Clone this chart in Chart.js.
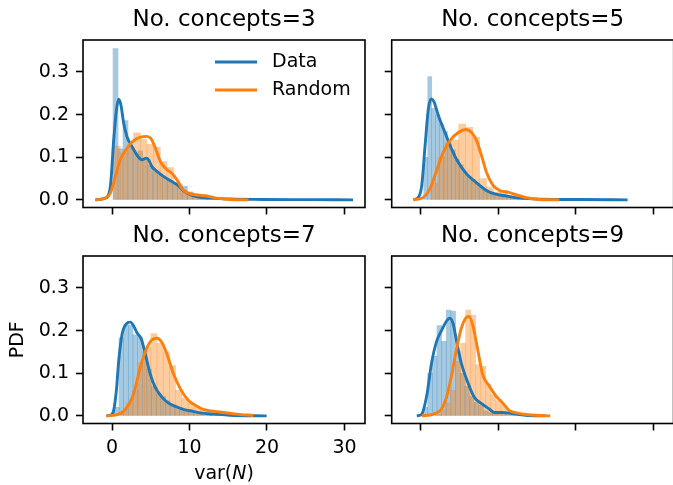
<!DOCTYPE html>
<html>
<head>
<meta charset="utf-8">
<script src="https://cdn.jsdelivr.net/npm/chart.js@4.4.1/dist/chart.umd.min.js"></script>
<style>
  html, body { margin: 0; padding: 0; background: #fff; overflow: hidden; }
  body { width: 673px; height: 485px; position: relative; }
  .panel { position: absolute; }
</style>
</head>
<body>
<div class="panel" style="left:0;top:0;width:370px;height:232px"><canvas id="c3"></canvas></div>
<div class="panel" style="left:375px;top:0;width:300px;height:232px"><canvas id="c5"></canvas></div>
<div class="panel" style="left:0;top:215.5px;width:370px;height:269.5px"><canvas id="c7"></canvas></div>
<div class="panel" style="left:375px;top:215.5px;width:300px;height:269.5px"><canvas id="c9"></canvas></div>
<script>
// ticks and axis ranges (shared by all four panels)
const xTicks = [0, 10, 20, 30];
const yTicks = [0, 0.1, 0.2, 0.3];
const xMin = -3.75, xMax = 32.65;
const yMin = -0.0179, yMax = 0.375;

// No. concepts=3
const c3DataBins = [0.45, 1.09, 1.73, 2.37, 3.01, 3.65, 4.29, 4.93, 5.57, 6.21, 6.85, 7.49, 8.13, 8.77, 9.41, 10.05, 10.69, 11.33, 11.97, 12.61, 13.25, 13.89, 14.53, 17.97, 21.81, 30.77];
const c3DataHist = [0.355, 0.12, 0.186, 0.13, 0.11, 0.115, 0.098, 0.082, 0.066, 0.058, 0.052, 0.045, 0.04, 0.036, 0.032, 0.018, 0.01, 0.007, 0.005, 0.004, 0.003, 0.002, 0.002, 0.001, 0.001, 0.001];
const c3DataKdeX = [-2.15, -0.86, -0.22, 0.21, 0.56, 0.85, 1.15, 1.5, 1.93, 2.57, 3.22, 3.86, 4.42, 4.72, 5.14, 5.79, 6.65, 7.72, 8.58, 9.22, 10.08, 11.4, 13.1, 15.2, 19.5, 25.9, 31.1];
const c3DataKdeY = [0, 0.004, 0.031, 0.14, 0.21, 0.236, 0.222, 0.18, 0.148, 0.125, 0.105, 0.094, 0.098, 0.094, 0.078, 0.067, 0.055, 0.043, 0.033, 0.022, 0.012, 0.006, 0.004, 0.002, 0.001, 0.0005, 0];
const c3RandBins = [0.63, 1.49, 2.35, 3.21, 4.07, 4.93, 5.79, 6.65, 7.51, 8.37, 9.23, 10.09, 10.95, 11.81, 12.67, 13.53, 14.39, 15.25];
const c3RandHist = [0.126, 0.11, 0.124, 0.157, 0.142, 0.13, 0.124, 0.09, 0.076, 0.04, 0.022, 0.018, 0.012, 0.009, 0.005, 0.003, 0.002, 0.001];
const c3RandKdeX = [-2.15, -0.86, -0.22, 0.42, 1.07, 1.93, 2.79, 3.65, 4.5, 5.0, 5.6, 6.24, 6.89, 7.75, 8.39, 9.03, 9.68, 10.75, 12.25, 13.5, 15.2, 17.6];
const c3RandKdeY = [0, 0.004, 0.016, 0.055, 0.094, 0.121, 0.139, 0.147, 0.149, 0.144, 0.121, 0.09, 0.074, 0.062, 0.047, 0.027, 0.017, 0.012, 0.009, 0.004, 0.001, 0];

// No. concepts=5
const c5DataBins = [0.65, 1.16, 1.67, 2.18, 2.69, 3.2, 3.71, 4.22, 4.73, 5.24, 5.75, 6.26, 6.77, 7.28, 7.79, 8.3, 8.81, 9.32, 9.83, 10.34, 10.85, 11.36, 11.87, 12.38, 14.42, 18.5, 23.6];
const c5DataHist = [0.1, 0.289, 0.215, 0.2, 0.178, 0.16, 0.13, 0.118, 0.095, 0.082, 0.066, 0.056, 0.048, 0.04, 0.03, 0.025, 0.018, 0.013, 0.01, 0.009, 0.007, 0.005, 0.004, 0.002, 0.001, 0.001, 0.001];
const c5DataKdeX = [-0.95, -0.3, 0.13, 0.56, 0.98, 1.33, 1.71, 2.27, 3.13, 3.98, 4.84, 5.91, 7.2, 8.48, 9.55, 11.05, 12.76, 15.34, 20.5, 26.7];
const c5DataKdeY = [0, 0.006, 0.034, 0.127, 0.213, 0.237, 0.23, 0.198, 0.158, 0.119, 0.088, 0.061, 0.04, 0.022, 0.014, 0.009, 0.004, 0.0016, 0.0008, 0];
const c5RandBins = [1.75, 2.65, 3.55, 4.45, 5.35, 6.25, 7.15, 8.05, 8.95, 9.85, 10.75, 11.65, 12.55, 13.45, 14.35];
const c5RandHist = [0.04, 0.1, 0.135, 0.14, 0.178, 0.17, 0.147, 0.05, 0.03, 0.018, 0.022, 0.01, 0.006, 0.003, 0.001];
const c5RandKdeX = [-0.95, 0.34, 1.2, 2.05, 2.91, 3.77, 4.84, 5.83, 6.56, 7.2, 7.84, 8.48, 9.34, 10.2, 11.27, 12.34, 13.63, 15.34, 17.9];
const c5RandKdeY = [0, 0.006, 0.026, 0.069, 0.112, 0.139, 0.158, 0.165, 0.158, 0.139, 0.104, 0.065, 0.034, 0.022, 0.018, 0.012, 0.005, 0.001, 0];

// No. concepts=7
const c7DataBins = [0.6, 1.2, 1.8, 2.4, 3.0, 3.6, 4.2, 4.8, 5.4, 6.0, 6.6, 7.2, 7.8, 8.4, 9.0, 9.6, 10.2, 10.8, 11.4, 12.0, 12.6, 13.2, 13.8, 14.4, 15.0, 15.6, 16.2];
const c7DataHist = [0.02, 0.183, 0.214, 0.213, 0.19, 0.185, 0.15, 0.11, 0.07, 0.052, 0.045, 0.035, 0.026, 0.02, 0.016, 0.014, 0.012, 0.008, 0.006, 0.005, 0.004, 0.003, 0.002, 0.002, 0.001, 0.001, 0.001];
const c7DataKdeX = [-0.73, -0.13, 0.21, 0.56, 0.86, 1.29, 1.84, 2.36, 2.79, 3.22, 3.78, 4.29, 4.93, 5.58, 6.44, 7.29, 8.37, 9.23, 10.08, 11.37, 13.09, 15.23, 19.95];
const c7DataKdeY = [0, 0.002, 0.013, 0.06, 0.129, 0.191, 0.216, 0.22, 0.211, 0.195, 0.18, 0.145, 0.098, 0.067, 0.044, 0.03, 0.021, 0.015, 0.012, 0.007, 0.004, 0.0016, 0];
const c7RandBins = [1.4, 2.2, 3.0, 3.8, 4.6, 5.4, 6.2, 7.0, 7.8, 8.6, 9.4, 10.2, 11.0, 11.8, 12.6, 13.4, 14.2, 15.0, 15.8, 16.6, 17.4];
const c7RandHist = [0.008, 0.03, 0.06, 0.125, 0.16, 0.193, 0.17, 0.15, 0.118, 0.06, 0.042, 0.03, 0.02, 0.013, 0.012, 0.009, 0.008, 0.005, 0.004, 0.002, 0.001];
const c7RandKdeX = [-0.73, 0.64, 1.72, 2.79, 3.65, 4.51, 5.28, 5.8, 6.44, 7.08, 7.94, 8.8, 9.87, 10.73, 11.8, 13.09, 14.37, 16.09, 18.24];
const c7RandKdeY = [0, 0.003, 0.015, 0.052, 0.114, 0.16, 0.18, 0.182, 0.172, 0.145, 0.098, 0.064, 0.036, 0.025, 0.015, 0.011, 0.008, 0.004, 0.001];

// No. concepts=9
const c9DataBins = [0.6, 1.2, 1.8, 2.4, 3.0, 3.6, 4.2, 4.8, 5.4, 6.0, 6.6, 7.2, 7.8, 8.4, 9.0, 9.6, 10.2, 10.8, 11.4];
const c9DataHist = [0.02, 0.1, 0.14, 0.212, 0.175, 0.248, 0.246, 0.15, 0.1, 0.07, 0.045, 0.032, 0.025, 0.012, 0.008, 0.008, 0.006, 0.003, 0.002];
const c9DataKdeX = [-0.51, 0.13, 0.77, 1.4, 2.04, 2.68, 3.32, 3.74, 4.17, 4.6, 5.23, 6.09, 6.94, 8.0, 8.85, 9.49, 10.55, 11.83, 13.53, 16.1];
const c9DataKdeY = [0, 0.004, 0.047, 0.124, 0.174, 0.2, 0.222, 0.229, 0.217, 0.178, 0.124, 0.078, 0.043, 0.027, 0.016, 0.008, 0.008, 0.005, 0.0016, 0];
const c9RandBins = [2.23, 2.88, 3.53, 4.18, 4.83, 5.48, 6.13, 6.78, 7.43, 8.08, 8.73, 9.38, 10.03, 10.68, 11.33, 11.98, 12.63, 13.28, 13.93];
const c9RandHist = [0.004, 0.015, 0.03, 0.06, 0.128, 0.17, 0.248, 0.236, 0.12, 0.116, 0.074, 0.05, 0.035, 0.025, 0.012, 0.006, 0.004, 0.002, 0.001];
const c9RandKdeX = [0.13, 1.62, 2.68, 3.32, 3.96, 4.6, 5.23, 5.79, 6.21, 6.72, 7.36, 8.0, 8.85, 9.7, 10.55, 11.4, 12.68, 14.38, 16.72];
const c9RandKdeY = [0, 0.004, 0.016, 0.043, 0.093, 0.155, 0.205, 0.229, 0.233, 0.213, 0.155, 0.097, 0.07, 0.047, 0.031, 0.013, 0.006, 0.002, 0];

const blue = '#1f77b4';
const orange = '#ff7f0e';

Chart.defaults.font.family = 'DejaVu Sans';
Chart.defaults.color = '#000';

// full box around each axes, like matplotlib spines
const frame = {
  id: 'frame',
  afterDraw(chart) {
    const a = chart.chartArea, ctx = chart.ctx;
    ctx.save();
    ctx.strokeStyle = '#000';
    ctx.lineWidth = 1.6;
    ctx.strokeRect(a.left, a.top, a.right - a.left, a.bottom - a.top);
    ctx.restore();
  }
};

// legend drawn inside the upper right of the plot area
const inlineLegend = {
  id: 'inlineLegend',
  afterDraw(chart, args, opts) {
    if (!opts.show) return;
    const a = chart.chartArea, ctx = chart.ctx;
    const items = chart.data.datasets.filter(d => d.type === 'line');
    ctx.save();
    ctx.font = '19px "DejaVu Sans"';
    ctx.textBaseline = 'middle';
    items.forEach((d, i) => {
      const y = a.top + 22 + i * 28;
      ctx.strokeStyle = d.borderColor;
      ctx.lineWidth = 2.9;
      ctx.beginPath();
      ctx.moveTo(a.right - 150, y);
      ctx.lineTo(a.right - 108, y);
      ctx.stroke();
      ctx.fillStyle = '#000';
      ctx.fillText(d.label, a.right - 93, y);
    });
    ctx.restore();
  }
};

// x label with italic N
const xLabel = {
  id: 'xLabel',
  afterDraw(chart, args, opts) {
    if (!opts.show) return;
    const a = chart.chartArea, ctx = chart.ctx;
    const parts = [['var(', 'normal'], ['N', 'italic'], [')', 'normal']];
    const fontFor = style => style + ' 19px "DejaVu Sans"';
    ctx.save();
    ctx.fillStyle = '#000';
    ctx.textBaseline = 'middle';
    let total = 0;
    parts.forEach(p => { ctx.font = fontFor(p[1]); total += ctx.measureText(p[0]).width; });
    let x = (a.left + a.right) / 2 - total / 2;
    const y = a.bottom + 51;
    parts.forEach(p => {
      ctx.font = fontFor(p[1]);
      ctx.fillText(p[0], x, y);
      x += ctx.measureText(p[0]).width;
    });
    ctx.restore();
  }
};

function toPoints(xs, ys) {
  return xs.map((x, i) => ({ x: x, y: ys[i] }));
}

const tickGrid = {
  display: true,
  drawOnChartArea: false,
  drawTicks: true,
  tickLength: 7,
  tickWidth: 1.6,
  tickColor: '#000',
  offset: false
};

function makePanel(id, p) {
  new Chart(document.getElementById(id), {
    type: 'bar',
    data: {
      datasets: [
        {
          type: 'bar', label: 'Data hist', xAxisID: 'x',
          data: toPoints(p.dataBins, p.dataHist),
          backgroundColor: 'rgba(31,119,180,0.4)', borderWidth: 0,
          barPercentage: 1, categoryPercentage: 1, grouped: false, order: 3
        },
        {
          type: 'bar', label: 'Random hist', xAxisID: 'x2',
          data: toPoints(p.randBins, p.randHist),
          backgroundColor: 'rgba(255,127,14,0.4)', borderWidth: 0,
          barPercentage: 1, categoryPercentage: 1, grouped: false, order: 2
        },
        {
          type: 'line', label: 'Data', xAxisID: 'x',
          data: toPoints(p.dataKdeX, p.dataKdeY),
          borderColor: blue, borderWidth: 2.9, pointRadius: 0,
          cubicInterpolationMode: 'monotone', fill: false, order: 1
        },
        {
          type: 'line', label: 'Random', xAxisID: 'x',
          data: toPoints(p.randKdeX, p.randKdeY),
          borderColor: orange, borderWidth: 2.9, pointRadius: 0,
          cubicInterpolationMode: 'monotone', fill: false, order: 0
        }
      ]
    },
    options: {
      responsive: true,
      maintainAspectRatio: false,
      animation: false,
      layout: { padding: { left: 0, top: 0, bottom: 0, right: p.padRight } },
      plugins: {
        legend: { display: false },
        tooltip: { enabled: false },
        title: {
          display: true, text: p.title, fullSize: false, color: '#000',
          font: { size: 23, weight: 'normal' },
          padding: { top: 6.2, bottom: 6.2 }
        },
        inlineLegend: { show: p.legend },
        xLabel: { show: p.xTitle }
      },
      scales: {
        x: {
          type: 'linear', min: xMin, max: xMax, offset: false,
          afterBuildTicks: s => { s.ticks = xTicks.map(v => ({ value: v })); },
          afterFit: s => { s.height = p.xHeight; },
          grid: tickGrid,
          border: { display: false },
          ticks: { display: p.xLabels, font: { size: 19 }, padding: 6, maxRotation: 0 }
        },
        x2: {
          type: 'linear', min: xMin, max: xMax, offset: false, display: false,
          afterBuildTicks: s => { s.ticks = xTicks.map(v => ({ value: v })); }
        },
        y: {
          type: 'linear', min: yMin, max: yMax,
          afterBuildTicks: s => { s.ticks = yTicks.map(v => ({ value: v })); },
          afterFit: s => { s.width = p.yWidth; },
          grid: tickGrid,
          border: { display: false },
          ticks: { display: p.yLabels, font: { size: 19 }, padding: 7, callback: v => v.toFixed(1) },
          title: { display: p.yTitle, text: 'PDF', font: { size: 19 }, padding: { top: 7, bottom: 0 } }
        }
      }
    },
    plugins: [frame, inlineLegend, xLabel]
  });
}

makePanel('c3', {
  title: 'No. concepts=3',
  dataBins: c3DataBins, dataHist: c3DataHist, dataKdeX: c3DataKdeX, dataKdeY: c3DataKdeY,
  randBins: c3RandBins, randHist: c3RandHist, randKdeX: c3RandKdeX, randKdeY: c3RandKdeY,
  yWidth: 83, xHeight: 24.5, padRight: 5,
  xLabels: false, yLabels: true, yTitle: false, xTitle: false, legend: true
});
makePanel('c5', {
  title: 'No. concepts=5',
  dataBins: c5DataBins, dataHist: c5DataHist, dataKdeX: c5DataKdeX, dataKdeY: c5DataKdeY,
  randBins: c5RandBins, randHist: c5RandHist, randKdeX: c5RandKdeX, randKdeY: c5RandKdeY,
  yWidth: 16.7, xHeight: 24.5, padRight: 1.3,
  xLabels: false, yLabels: false, yTitle: false, xTitle: false, legend: false
});
makePanel('c7', {
  title: 'No. concepts=7',
  dataBins: c7DataBins, dataHist: c7DataHist, dataKdeX: c7DataKdeX, dataKdeY: c7DataKdeY,
  randBins: c7RandBins, randHist: c7RandHist, randKdeX: c7RandKdeX, randKdeY: c7RandKdeY,
  yWidth: 83, xHeight: 62, padRight: 5,
  xLabels: true, yLabels: true, yTitle: true, xTitle: true, legend: false
});
makePanel('c9', {
  title: 'No. concepts=9',
  dataBins: c9DataBins, dataHist: c9DataHist, dataKdeX: c9DataKdeX, dataKdeY: c9DataKdeY,
  randBins: c9RandBins, randHist: c9RandHist, randKdeX: c9RandKdeX, randKdeY: c9RandKdeY,
  yWidth: 16.7, xHeight: 62, padRight: 1.3,
  xLabels: false, yLabels: false, yTitle: false, xTitle: false, legend: false
});
</script>
</body>
</html>
